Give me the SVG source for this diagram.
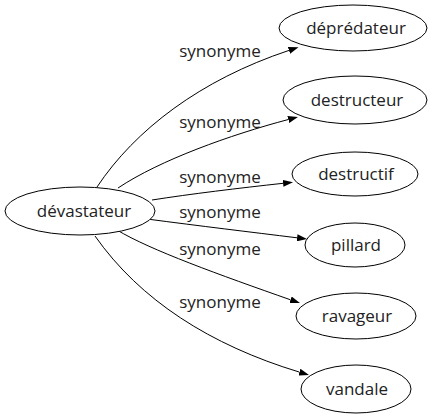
<svg xmlns="http://www.w3.org/2000/svg" width="438" height="419" viewBox="0 0 438 419">
<style>
.node ellipse{fill:#fff;stroke:#000;stroke-width:1}
text{font-family:"Open Sans","DejaVu Sans",sans-serif;font-size:17px;fill:#222;text-anchor:middle}
.edge path{fill:none;stroke:#000;stroke-width:1}
</style>
<defs>
<marker id="arr" viewBox="0 0 10 7" refX="0" refY="3.5" markerWidth="10" markerHeight="7" markerUnits="userSpaceOnUse" orient="auto">
<path d="M0,0 L10,3.5 L0,7 z" fill="#000"/>
</marker>
</defs>
<rect width="438" height="419" fill="#fff"/>
<g id="edges" class="edge">
<path d="M97,187 C135,130 200,80 289,50.4" marker-end="url(#arr)"/>
<path d="M118,188 C160,160 230,135 288.3,119.5" marker-end="url(#arr)"/>
<path d="M152,200 C190,194 240,188 283.1,183.3" marker-end="url(#arr)"/>
<path d="M147,219 C200,226 250,232 297.1,237.8" marker-end="url(#arr)"/>
<path d="M117,230 C150,250 220,275 290.5,299.8" marker-end="url(#arr)"/>
<path d="M95,236 C140,300 210,345 299.4,372.1" marker-end="url(#arr)"/>
<text x="220" y="57">synonyme</text>
<text x="220" y="128">synonyme</text>
<text x="220" y="183">synonyme</text>
<text x="220" y="218">synonyme</text>
<text x="220" y="255">synonyme</text>
<text x="220" y="308">synonyme</text>
</g>
<g id="devastateur" class="node"><ellipse cx="80" cy="211" rx="75" ry="24"/><text x="84" y="217">dévastateur</text></g>
<g id="depredateur" class="node"><ellipse cx="353" cy="28" rx="74" ry="23"/><text x="356" y="34">déprédateur</text></g>
<g id="destructeur" class="node"><ellipse cx="355" cy="100" rx="72" ry="24"/><text x="357" y="106">destructeur</text></g>
<g id="destructif" class="node"><ellipse cx="355" cy="174" rx="63" ry="22"/><text x="356" y="180">destructif</text></g>
<g id="pillard" class="node"><ellipse cx="355" cy="245" rx="50" ry="22"/><text x="356" y="251">pillard</text></g>
<g id="ravageur" class="node"><ellipse cx="356" cy="316" rx="60" ry="23"/><text x="357" y="322">ravageur</text></g>
<g id="vandale" class="node"><ellipse cx="356" cy="389" rx="55" ry="24"/><text x="357" y="395">vandale</text></g>
</svg>
